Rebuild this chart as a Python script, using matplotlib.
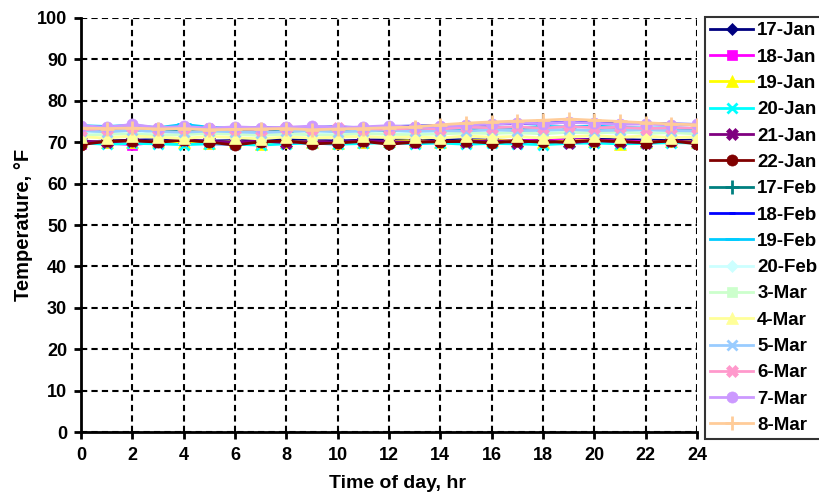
import matplotlib
matplotlib.use("Agg")
import matplotlib.pyplot as plt
import numpy as np

plt.rcParams["font.family"] = ["Liberation Sans", "DejaVu Sans"]
plt.rcParams["font.weight"] = "bold"

# ---------------- data ----------------
hours = list(range(25))

labels = ["17-Jan", "18-Jan", "19-Jan", "20-Jan", "21-Jan", "22-Jan",
          "17-Feb", "18-Feb", "19-Feb", "20-Feb",
          "3-Mar", "4-Mar", "5-Mar", "6-Mar", "7-Mar", "8-Mar"]

jan17 = [70.0, 70.3, 70.5, 70.6, 70.5, 70.3, 70.4, 70.5, 70.6, 70.4, 70.3, 70.5, 70.6,
         70.4, 70.5, 70.6, 70.5, 70.4, 70.5, 70.6, 70.7, 70.6, 70.5, 70.4, 70.5]
jan18 = [69.6, 69.8, 69.4, 70.0, 69.8, 69.6, 69.5, 69.8, 70.0, 69.7, 69.6, 69.9, 70.0,
         69.8, 69.9, 70.1, 70.4, 70.3, 70.5, 70.6, 70.5, 70.3, 70.1, 70.0, 69.9]
jan19 = [70.2, 70.0, 70.1, 70.3, 70.0, 69.8, 70.2, 69.6, 70.0, 70.1, 69.9, 70.0, 70.2,
         70.4, 70.1, 70.3, 70.5, 70.2, 70.0, 70.3, 70.4, 69.5, 70.0, 70.2, 70.1]
jan20 = [69.8, 69.5, 69.7, 69.6, 69.4, 69.6, 69.5, 69.3, 69.6, 69.8, 69.5, 69.7, 69.9,
         69.6, 69.8, 69.5, 69.7, 69.6, 69.4, 69.7, 69.8, 69.6, 69.7, 69.9, 69.8]
jan21 = [70.3, 70.0, 70.4, 70.1, 70.5, 70.2, 70.0, 70.3, 69.9, 70.2, 70.0, 70.4, 70.1,
         70.0, 70.3, 70.1, 70.4, 69.9, 70.5, 69.8, 70.4, 70.1, 69.9, 70.4, 69.9]
jan22 = [69.4, 70.2, 70.4, 70.0, 70.5, 70.0, 69.3, 70.1, 70.3, 69.6, 69.8, 70.2, 69.5,
         70.0, 70.1, 70.2, 69.8, 70.3, 70.0, 70.1, 70.4, 70.2, 69.9, 70.3, 69.6]
feb17 = [72.6, 72.8, 72.5, 72.9, 72.7, 72.6, 72.8, 72.9, 72.7, 72.8, 73.0, 72.8, 72.9,
         72.7, 72.8, 73.0, 73.1, 72.9, 73.0, 72.8, 72.9, 73.0, 72.8, 72.7, 72.9]
feb18 = [73.2, 73.4, 73.5, 73.3, 73.6, 73.4, 73.3, 73.5, 73.4, 73.6, 73.7, 73.5, 73.8,
         73.9, 74.0, 74.2, 74.4, 74.5, 74.6, 74.8, 74.7, 74.6, 74.5, 74.4, 74.3]
feb19 = [74.0, 73.8, 74.1, 73.5, 74.3, 73.6, 73.4, 73.2, 73.5, 73.3, 73.4, 73.1, 73.3,
         73.5, 73.2, 73.4, 73.6, 73.5, 73.8, 73.7, 73.9, 73.6, 73.4, 73.5, 73.3]
feb20 = [72.2, 72.0, 72.3, 71.9, 72.1, 72.4, 72.0, 72.2, 71.8, 72.1, 72.3, 72.0, 72.2,
         72.1, 72.4, 72.3, 72.5, 72.2, 72.3, 72.6, 72.4, 72.2, 72.5, 72.3, 72.4]
mar3 = [71.6, 71.9, 72.0, 71.7, 71.8, 72.1, 71.9, 71.6, 72.0, 71.8, 71.7, 72.1, 71.9,
        71.8, 72.0, 72.2, 72.1, 72.3, 72.0, 72.4, 72.2, 72.5, 72.1, 72.3, 72.0]
mar4 = [71.3, 71.0, 71.5, 71.2, 70.9, 71.4, 71.1, 70.8, 71.3, 71.0, 71.2, 71.4, 71.1,
        71.3, 71.0, 71.5, 71.2, 71.4, 71.0, 71.3, 71.6, 71.2, 71.5, 71.1, 71.3]
mar5 = [72.8, 72.5, 72.9, 72.6, 72.4, 72.7, 72.5, 72.3, 72.6, 72.8, 72.5, 72.7, 72.9,
        72.6, 72.8, 72.7, 73.0, 72.8, 72.9, 73.1, 72.8, 72.9, 73.0, 72.8, 72.7]
mar6 = [73.0, 73.3, 73.6, 73.2, 73.4, 73.1, 73.3, 73.0, 73.5, 73.2, 73.4, 73.3, 73.1,
        73.4, 73.2, 73.6, 73.5, 73.7, 73.4, 73.8, 73.5, 73.6, 73.3, 73.5, 73.4]
mar7 = [74.0, 73.6, 74.3, 73.5, 73.8, 73.4, 73.7, 73.5, 73.6, 73.9, 73.5, 73.7, 74.0,
        73.6, 73.8, 74.1, 74.4, 74.6, 74.5, 74.8, 74.6, 74.3, 74.4, 74.2, 74.3]
mar8 = [73.4, 73.3, 73.4, 73.2, 73.3, 73.0, 73.1, 73.2, 73.3, 73.0, 73.2, 73.3, 73.5,
        73.7, 74.2, 74.6, 74.9, 75.1, 75.3, 75.6, 75.3, 75.0, 74.7, 74.4, 74.2]

series = [jan17, jan18, jan19, jan20, jan21, jan22, feb17, feb18, feb19, feb20,
          mar3, mar4, mar5, mar6, mar7, mar8]

# Excel-style colours and markers
colors = ["#000080", "#FF00FF", "#FFFF00", "#00FFFF", "#800080", "#800000",
          "#008080", "#0000FF", "#00CCFF", "#CCFFFF", "#CCFFCC", "#FFFF99",
          "#99CCFF", "#FF99CC", "#CC99FF", "#FFCC99"]
markers = ["D", "s", "^", "x", "X", "o", "+", "_", "_", "D",
           "s", "^", "x", "X", "o", "+"]
msizes = [6, 7, 8, 7, 8, 8, 10, 5, 10, 6, 7, 8, 7, 8, 8, 10]

# ---------------- plot ----------------
fig = plt.figure(figsize=(8.19, 4.94), dpi=100)
ax = fig.add_axes([81 / 819, 1 - 432 / 494, 616 / 819, 414 / 494])

for vals, lab, c, m, ms in zip(series, labels, colors, markers, msizes):
    ax.plot(hours, vals, color=c, marker=m, markersize=ms, linewidth=2,
            markeredgewidth=2 if m in ["x", "+", "_"] else 0.5,
            markeredgecolor=c, label=lab)

ax.set_xlim(0, 24)
ax.set_ylim(0, 100)
ax.set_xticks(np.arange(0, 25, 2))
ax.set_yticks(np.arange(0, 101, 10))
ax.tick_params(axis="both", direction="out", length=5, width=2, labelsize=13)
ax.tick_params(axis="x", pad=6)
ax.tick_params(axis="y", pad=5)
for t in ax.get_xticklabels() + ax.get_yticklabels():
    t.set_fontweight("bold")

ax.grid(True, color="black", linestyle=(0, (3, 2)), linewidth=1.5)
ax.set_axisbelow(True)
for s in ["top", "right"]:
    ax.spines[s].set_visible(False)
for s in ["left", "bottom"]:
    ax.spines[s].set_linewidth(2)

ax.set_xlabel("Time of day, hr", fontsize=14, fontweight="bold")
ax.xaxis.set_label_coords(0.513, -0.105)
ax.set_ylabel("Temperature, °F", fontsize=14.5, fontweight="bold", labelpad=3)

leg = fig.legend(loc="upper left", bbox_to_anchor=(705 / 819, 1 - 17 / 494),
                 fontsize=13.5, frameon=True, fancybox=False, edgecolor="black",
                 handlelength=2.3, handletextpad=0.2, labelspacing=0.49,
                 borderpad=0.28, borderaxespad=0)
leg.get_frame().set_linewidth(1.5)
for t in leg.get_texts():
    t.set_fontweight("bold")

fig.savefig("out.png", dpi=100)
